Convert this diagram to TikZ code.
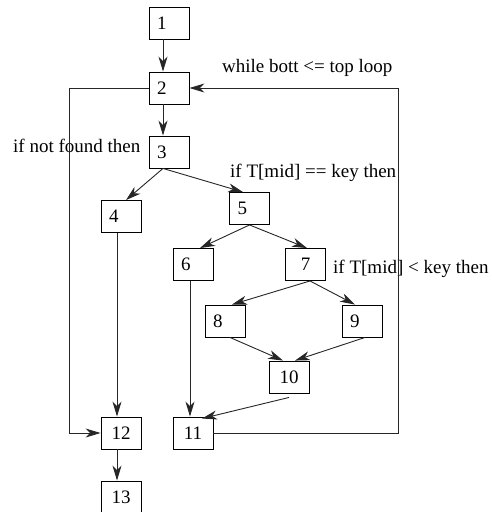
\documentclass[tikz,border=0pt]{standalone}
\usepackage{fontspec}
\setmainfont{Liberation Serif}
\usetikzlibrary{arrows.meta}
\begin{document}
\begin{tikzpicture}[x=1pt,y=-1pt,
  every node/.style={font=\fontsize{19}{22}\selectfont},
  blk/.style={draw, line width=0.9pt, minimum width=40pt, minimum height=32pt, inner sep=0pt},
  lab/.style={anchor=base west, inner sep=0pt},
  edge/.style={line width=0.9pt, draw=black!85},
  arr/.style={edge, -{Stealth[length=15pt,width=9pt,inset=4.5pt]}}]
\useasboundingbox (0,0) rectangle (492,512);
\newcommand{\dg}[1]{\makebox[24pt][l]{#1}}
% blocks of the flow graph
\node[blk] (n1)  at (169,23)    {\dg{1}};
\node[blk] (n2)  at (169,88)    {\dg{2}};
\node[blk] (n3)  at (169,152)   {\dg{3}};
\node[blk] (n4)  at (121,216.5) {\dg{4}};
\node[blk] (n5)  at (249.5,208.5) {\dg{5}};
\node[blk] (n6)  at (193,264.5) {\dg{6}};
\node[blk] (n7)  at (305.5,264.5) {7};
\node[blk] (n8)  at (225,321)   {\dg{8}};
\node[blk] (n9)  at (362,321)   {\dg{9}};
\node[blk] (n10) at (289,377)   {10};
\node[blk] (n11) at (193,433)   {11};
\node[blk] (n12) at (121,433)   {12};
\node[blk] (n13) at (121,497)   {13};
% branch conditions
\node[lab] (t1) at (222,72)  {while bott <= top loop};
\node[lab] (t2) at (13,152)  {if not found then};
\node[lab] (t3) at (230,177) {if T[mid] == key then};
\node[lab] (t4) at (333,273) {if T[mid] < key then};
% corners of the loop edges
\coordinate (cl) at (69,88);
\coordinate (cr) at (398,433);
% edges
\draw[arr] ([xshift=-6pt]n1.south) -- ([xshift=-6pt]n2.north);
\draw[arr] ([xshift=-6pt]n2.south) -- ([xshift=-6pt]n3.north);
\draw[arr] ([xshift=-6pt]n3.south) -- ([xshift=5pt]n4.north);
\draw[arr] ([xshift=-6pt]n3.south) -- ([xshift=-6.5pt]n5.north);
\draw[arr] (n5.south) -- ([xshift=7pt]n6.north);
\draw[arr] (n5.south) -- ([xshift=1.5pt]n7.north);
\draw[arr] ([xshift=4.5pt]n7.south) -- ([xshift=7pt]n8.north);
\draw[arr] ([xshift=4.5pt]n7.south) -- ([xshift=-7pt]n9.north);
\draw[arr] ([xshift=5pt]n8.south) -- ([xshift=-6pt]n10.north);
\draw[arr] ([xshift=3pt]n9.south) -- ([xshift=6pt]n10.north);
\draw[arr] ([yshift=-4pt]n10.south) -- ([xshift=9pt,yshift=-2pt]n11.north);
\draw[arr] ([xshift=-3pt]n6.south) -- ([xshift=-3pt]n11.north);
\draw[arr] ([xshift=-4pt]n4.south) -- ([xshift=-4pt]n12.north);
\draw[arr] ([xshift=-4pt]n12.south) -- ([xshift=-4pt]n13.north);
\draw[arr] (n2.west) -- (cl) |- (n12.west);
\draw[arr] (n11.east) -- (cr) |- (n2.east);
\end{tikzpicture}
\end{document}
